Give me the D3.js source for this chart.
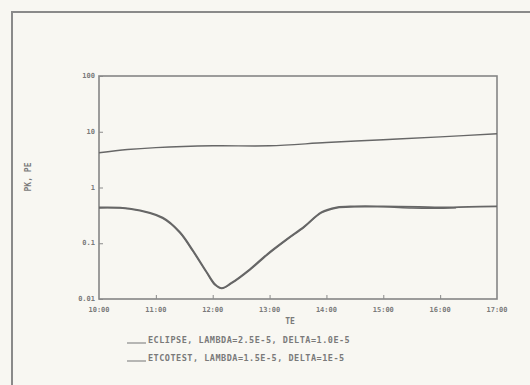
<!DOCTYPE html>
<html>
<head>
<meta charset="utf-8">
<script src="https://cdn.jsdelivr.net/npm/d3@7"></script>
<style>
  html, body { margin: 0; padding: 0; background: #f8f7f2; }
  svg { display: block; }
  text { font-family: "DejaVu Sans Mono", monospace; fill: #7a7a7a; font-weight: bold; }
</style>
</head>
<body>
<svg id="chart" width="530" height="385"></svg>
<script>
// x tick labels (scanned, read as hours)
const xTickLabels = ['10:00', '11:00', '12:00', '13:00', '14:00', '15:00', '16:00', '17:00'];
const yTicks = [0.01, 0.1, 1, 10, 100];
const yTickLabels = ['0.01', '0.1', '1', '10', '100'];

// upper curve
const upperX = [0, 0.5, 1, 2, 3, 4, 5, 6, 7];
const upperY = [4.2, 4.8, 5.2, 5.6, 5.6, 6.4, 7.2, 8.1, 9.2];

// lower curve, first series
const lowerX = [0, 0.54, 1.12, 1.42, 1.65, 1.89, 2.04, 2.16, 2.33, 2.65, 2.96, 3.3, 3.61, 3.91, 4.18, 4.49, 5, 5.63, 6, 6.5, 7];
const lowerY = [0.44, 0.42, 0.29, 0.16, 0.075, 0.031, 0.0185, 0.0157, 0.0195, 0.034, 0.064, 0.118, 0.2, 0.36, 0.44, 0.46, 0.46, 0.45, 0.44, 0.45, 0.46];

// lower curve, second series (stops early)
const lower2X = [0, 0.54, 1.12, 1.42, 1.65, 1.89, 2.04, 2.16, 2.33, 2.65, 2.96, 3.3, 3.61, 3.91, 4.18, 4.49, 5, 5.5, 5.9, 6.28];
const lower2Y = [0.43, 0.41, 0.28, 0.155, 0.072, 0.03, 0.0178, 0.0154, 0.019, 0.033, 0.062, 0.115, 0.195, 0.35, 0.43, 0.45, 0.45, 0.43, 0.425, 0.435];

const legendLabels = [
  'ECLIPSE, LAMBDA=2.5E-5, DELTA=1.0E-5',
  'ETCOTEST, LAMBDA=1.5E-5, DELTA=1E-5'
];

const svg = d3.select('#chart');
const ink = '#676767';

// scanned page frame
svg.append('path')
  .attr('d', 'M12,385 L12,12 L530,12')
  .attr('fill', 'none')
  .attr('stroke', '#8a8a8a')
  .attr('stroke-width', 2);

const m = { left: 99, right: 497, top: 76, bottom: 299 };

const x = d3.scaleLinear().domain([0, 7]).range([m.left, m.right]);
const y = d3.scaleLog().domain([0.01, 100]).range([m.bottom, m.top]);

// plot box
svg.append('rect')
  .attr('x', m.left).attr('y', m.top)
  .attr('width', m.right - m.left).attr('height', m.bottom - m.top)
  .attr('fill', 'none')
  .attr('stroke', '#858585')
  .attr('stroke-width', 1.6);

// y axis, ticks inward
const yAxis = d3.axisRight(y)
  .tickValues(yTicks)
  .tickSize(4)
  .tickFormat('');
const gy = svg.append('g').attr('transform', `translate(${m.left},0)`).call(yAxis);
gy.select('.domain').remove();
gy.selectAll('line').attr('stroke', '#8a8a8a');
svg.append('g').selectAll('text')
  .data(yTicks)
  .join('text')
  .attr('x', m.left - 4)
  .attr('y', d => y(d) + 2)
  .attr('text-anchor', 'end')
  .attr('font-size', 7)
  .text((d, i) => yTickLabels[i]);

// x axis, ticks inward
const xAxis = d3.axisTop(x)
  .tickValues(d3.range(1, 7))
  .tickSize(4)
  .tickFormat('');
const gx = svg.append('g').attr('transform', `translate(0,${m.bottom})`).call(xAxis);
gx.select('.domain').remove();
gx.selectAll('line').attr('stroke', '#8a8a8a');
svg.append('g').selectAll('text')
  .data(xTickLabels)
  .join('text')
  .attr('x', (d, i) => x(i))
  .attr('y', 312)
  .attr('text-anchor', 'middle')
  .attr('font-size', 7)
  .text(d => d);

// axis titles
svg.append('text')
  .attr('x', 290).attr('y', 324)
  .attr('text-anchor', 'middle')
  .attr('font-size', 8)
  .text('TE');
svg.append('text')
  .attr('transform', 'translate(31,177) rotate(-90)')
  .attr('text-anchor', 'middle')
  .attr('font-size', 8)
  .text('PK, PE');

const line = d3.line()
  .x(d => x(d[0]))
  .y(d => y(d[1]))
  .curve(d3.curveCatmullRom.alpha(0.5));

svg.append('path')
  .datum(d3.zip(upperX, upperY))
  .attr('d', line)
  .attr('fill', 'none')
  .attr('stroke', ink)
  .attr('stroke-width', 1.4);

svg.append('path')
  .datum(d3.zip(lowerX, lowerY))
  .attr('d', line)
  .attr('fill', 'none')
  .attr('stroke', ink)
  .attr('stroke-width', 1.7);

svg.append('path')
  .datum(d3.zip(lower2X, lower2Y))
  .attr('d', line)
  .attr('fill', 'none')
  .attr('stroke', ink)
  .attr('stroke-width', 1.5);

// legend
const leg = svg.append('g').selectAll('g')
  .data(legendLabels)
  .join('g')
  .attr('transform', (d, i) => `translate(127,${343 + i * 18})`);
leg.append('line')
  .attr('x1', 0).attr('x2', 19)
  .attr('y1', 0).attr('y2', 0)
  .attr('stroke', '#8a8a8a')
  .attr('stroke-width', 1.2);
leg.append('text')
  .attr('x', 21).attr('y', 0)
  .attr('font-size', 8.5)
  .attr('letter-spacing', 0.5)
  .text(d => d);
</script>
</body>
</html>
